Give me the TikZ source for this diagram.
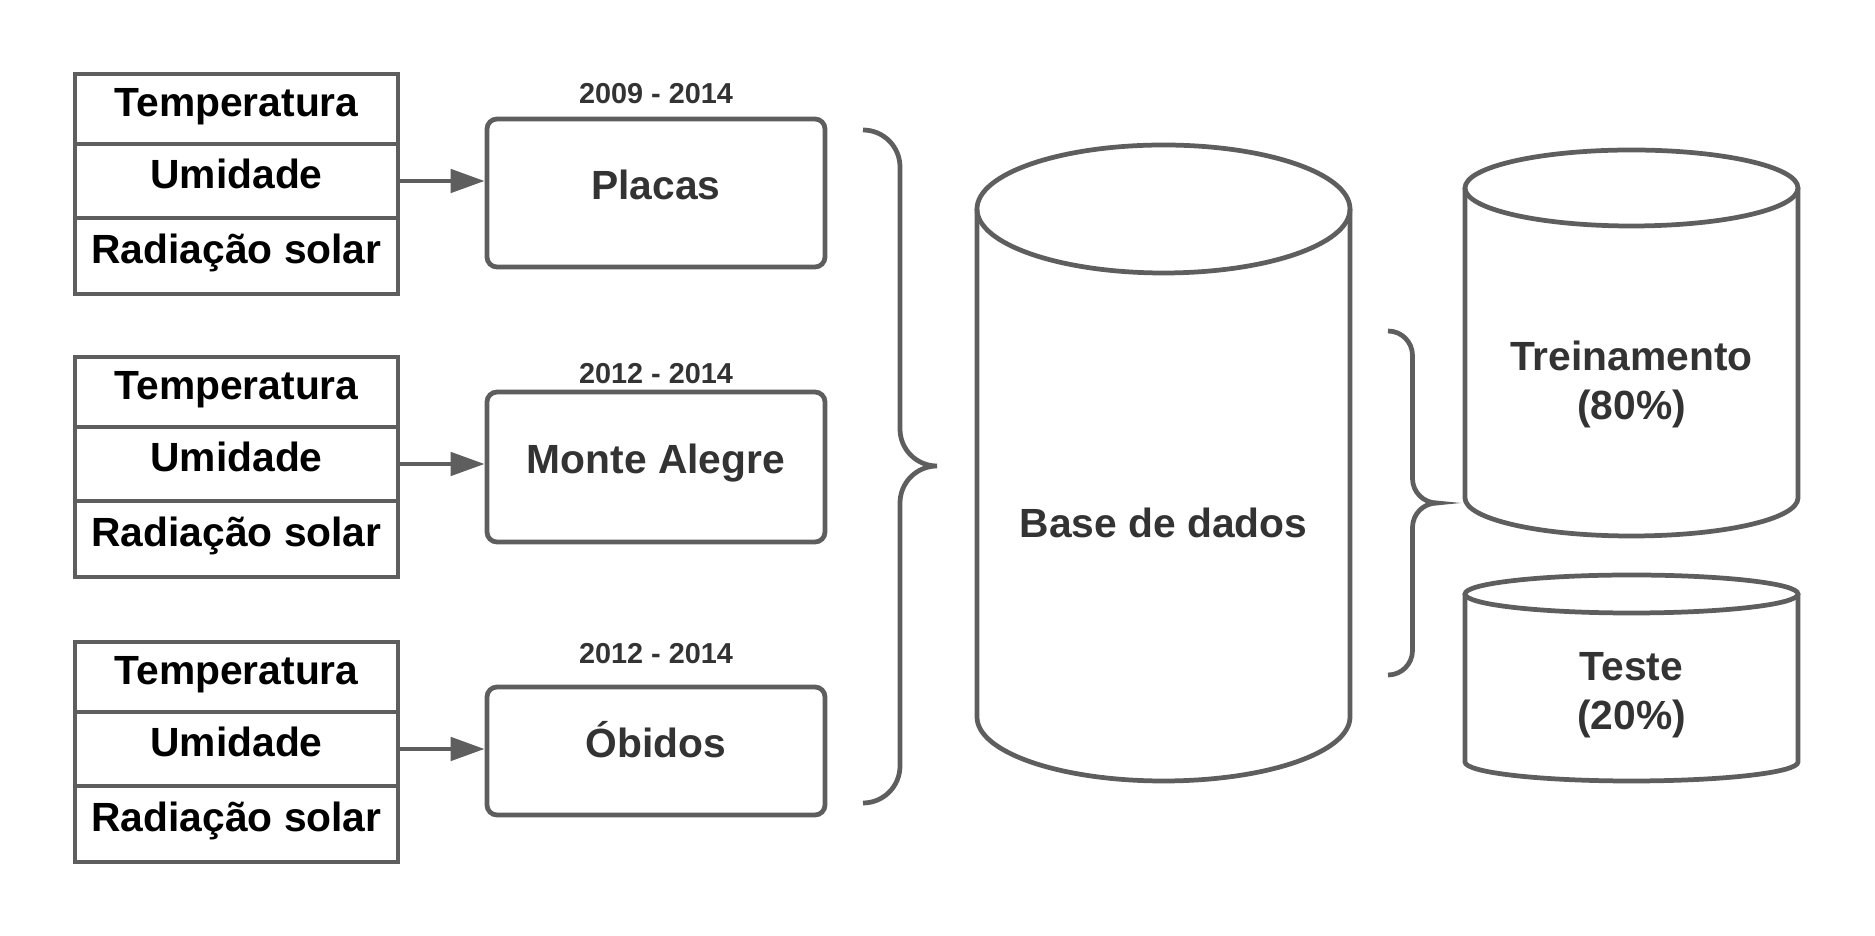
\documentclass[tikz,border=0pt]{standalone}
\usepackage{fontspec}
\setmainfont{Liberation Sans}
\usetikzlibrary{arrows.meta,calc}
\definecolor{lc}{HTML}{5E5E5E}
\definecolor{tc}{HTML}{333333}
\begin{document}
\begin{tikzpicture}[
  ln/.style={draw=lc, line width=1.35pt},
  cell/.style={ln, minimum width=3.23cm, inner sep=0pt, text height=0.30cm, text depth=0.15cm, font=\fontsize{11.6}{14}\selectfont\bfseries, text=black},
  box/.style={ln, rounded corners=0.1cm, minimum width=3.38cm, inner sep=0pt, text height=0.30cm, text depth=0.17cm, font=\fontsize{11.6}{14}\selectfont\bfseries, text=tc},
  yr/.style={anchor=base, font=\fontsize{8.2}{10}\selectfont\bfseries, text=tc, inner sep=0pt},
  lbl/.style={anchor=base, align=center, font=\fontsize{11.6}{14.2}\selectfont\bfseries, text=tc, inner sep=0pt},
  arr/.style={ln, -{Triangle[length=0.34cm,width=0.23cm]}},
]
\fill[white] (0,0) rectangle (18.75,-9.36);
\useasboundingbox (0,0) rectangle (18.75,-9.36);

% tables
\foreach \i/\dy in {1/0,2/2.83,3/5.68}{
  \node[cell, minimum height=0.70cm] (t\i-a) at (2.365,-1.09-\dy) {Temperatura};
  \node[cell, minimum height=0.74cm] (t\i-b) at (2.365,-1.81-\dy) {Umidade};
  \node[cell, minimum height=0.76cm] (t\i-c) at (2.365,-2.56-\dy) {Radiação solar};
}

% location boxes
\node[box, minimum height=1.48cm] (p1) at (6.56,-1.93) {Placas};
\node[box, minimum height=1.50cm] (p2) at (6.56,-4.67) {Monte Alegre};
\node[box, minimum height=1.28cm] (p3) at (6.56,-7.51) {Óbidos};

\node[yr] (y1) at (6.56,-1.04) {2009 - 2014};
\node[yr] (y2) at (6.56,-3.84) {2012 - 2014};
\node[yr] (y3) at (6.56,-6.64) {2012 - 2014};

\foreach \i in {1,2,3}{
  \draw[arr] (t\i-b.east) -- (t\i-b.east -| p\i.west);
}

% left brace
\draw[ln] (8.63,-1.30) arc (90:0:0.37) -- (9.00,-4.29) arc (180:270:0.37)
          arc (90:180:0.37) -- (9.00,-7.66) arc (0:-90:0.37);

% big cylinder
\draw[ln, fill=white] (9.77,-2.09) -- (9.77,-7.17) arc (180:360:1.865 and 0.64) -- (13.50,-2.09);
\draw[ln] (11.635,-2.09) ellipse (1.865 and 0.64);
\node[lbl] (db) at (11.635,-5.38) {Base de dados};

% right brace
\draw[ln] (13.88,-3.31) arc (90:0:0.245) -- (14.125,-4.785) arc (180:270:0.245)
          arc (90:180:0.245) -- (14.125,-6.505) arc (0:-90:0.245);

% training cylinder
\draw[ln] (14.65,-1.88) -- (14.65,-4.98) arc (180:360:1.665 and 0.38) -- (17.98,-1.88);
\draw[ln] (16.315,-1.88) ellipse (1.665 and 0.38);
\node[lbl] (tr) at (16.315,-4.20) {Treinamento\\(80\%)};

% test cylinder
\draw[ln] (14.65,-5.94) -- (14.65,-7.62) arc (180:360:1.665 and 0.19) -- (17.98,-5.94);
\draw[ln] (16.315,-5.94) ellipse (1.665 and 0.19);
\node[lbl] (te) at (16.315,-7.30) {Teste\\(20\%)};
\end{tikzpicture}
\end{document}
